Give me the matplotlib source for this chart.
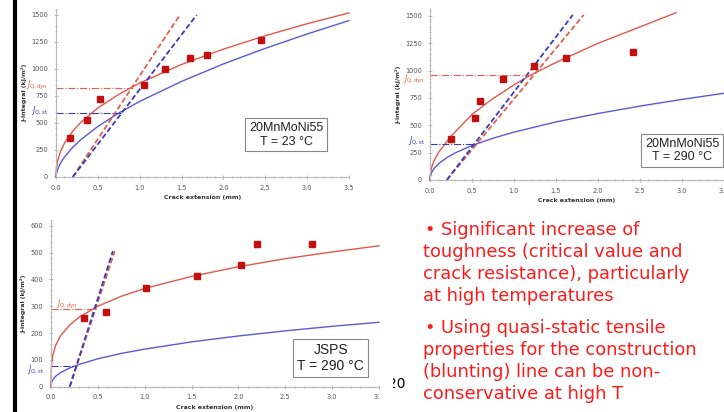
"""
Slide recreation: J-R curves (dynamic vs quasi-static) for 20MnMoNi55 and JSPS.
"""
import matplotlib.pyplot as plt
from matplotlib.patches import Rectangle
from matplotlib.ticker import MultipleLocator

W, H = 724, 412

# ---- data ----
# panel 1: 20MnMoNi55, T = 23 C
p1_pts_x = [0.17, 0.37, 0.53, 1.05, 1.30, 1.60, 1.80, 2.45]
p1_pts_y = [365, 530, 725, 855, 1000, 1100, 1125, 1265]
p1_curve_x = [0, 0.005, 0.02, 0.05, 0.1, 0.2, 0.3, 0.5, 0.75, 1.0, 1.5, 2.0, 2.5, 3.0, 3.5]
p1_dyn_y = [0, 82, 152, 229, 312, 425, 509, 639, 765, 870, 1042, 1184, 1308, 1419, 1519]
p1_st_y = [0, 32, 72, 123, 184, 275, 348, 468, 592, 700, 885, 1047, 1191, 1324, 1448]
p1_blunt_dyn = ([0.2, 1.48], [0, 1500])
p1_blunt_st = ([0.2, 1.68], [0, 1500])
p1_jq_dyn = (0.92, 825)
p1_jq_st = (0.78, 597)

# panel 2: 20MnMoNi55, T = 290 C
p2_pts_x = [0.25, 0.54, 0.60, 0.87, 1.24, 1.62, 2.42]
p2_pts_y = [372, 570, 722, 921, 1043, 1119, 1174]
p2_dyn_x = [0, 0.005, 0.02, 0.05, 0.1, 0.25, 0.5, 0.75, 1.0, 1.2, 1.5, 2.0, 2.5, 2.93]
p2_dyn_y = [0, 60, 115, 180, 250, 400, 600, 745, 870, 960, 1075, 1250, 1400, 1530]
p2_st_x = [0, 0.005, 0.02, 0.05, 0.1, 0.2, 0.3, 0.5, 0.75, 1.0, 1.5, 2.0, 2.5, 3.0, 3.5]
p2_st_y = [0, 36, 69, 106, 147, 204, 248, 315, 382, 438, 531, 608, 676, 737, 793]
p2_blunt_dyn = ([0.2, 1.83], [0, 1510])
p2_blunt_st = ([0.2, 1.70], [0, 1510])
p2_jq_dyn = (1.21, 960)
p2_jq_st = (0.55, 329)

# panel 3: JSPS, T = 290 C
p3_pts_x = [0.35, 0.59, 1.01, 1.56, 2.03, 2.20, 2.78]
p3_pts_y = [255, 279, 369, 414, 452, 530, 530]
p3_curve_x = [0, 0.005, 0.02, 0.05, 0.1, 0.2, 0.3, 0.5, 0.75, 1.0, 1.5, 2.0, 2.5, 3.0, 3.5]
p3_dyn_y = [0, 80, 119, 154, 189, 230, 259, 300, 337, 366, 411, 447, 477, 502, 525]
p3_st_y = [0, 14, 26, 39, 52, 70, 83, 104, 124, 140, 167, 189, 208, 225, 240]
p3_blunt_dyn = ([0.2, 0.68], [0, 505])
p3_blunt_st = ([0.2, 0.66], [0, 505])
p3_jq_dyn = (0.48, 288)
p3_jq_st = (0.28, 76)

bullets = [
    ["\u2022 Significant increase of", "toughness (critical value and",
     "crack resistance), particularly", "at high temperatures"],
    ["\u2022 Using quasi-static tensile", "properties for the construction",
     "(blunting) line can be non-", "conservative at high T"],
]

RED_C = "#e2574c"
BLUE_C = "#5a5ad6"
RED_D = "#e0604f"
BLUE_D = "#3c3cb8"
PT = "#c40f0f"

fig = plt.figure(figsize=(W / 100, H / 100), dpi=100)
fig.patch.set_facecolor("white")


def px_axes(x0, y0, x1, y1):
    return fig.add_axes([x0 / W, 1 - y1 / H, (x1 - x0) / W, (y1 - y0) / H])


def style(ax, ymax, ystep, yminor):
    ax.set_xlim(0, 3.5)
    ax.set_ylim(0, ymax)
    ax.xaxis.set_major_locator(MultipleLocator(0.5))
    ax.xaxis.set_minor_locator(MultipleLocator(0.1))
    ax.yaxis.set_major_locator(MultipleLocator(ystep))
    ax.yaxis.set_minor_locator(MultipleLocator(yminor))
    for s in ["top", "right"]:
        ax.spines[s].set_visible(False)
    for s in ["left", "bottom"]:
        ax.spines[s].set_color("#b8b8b8")
        ax.spines[s].set_linewidth(0.8)
    ax.tick_params(which="both", direction="inout", color="#b8b8b8",
                   labelsize=4.8, labelcolor="#555555", pad=4)
    ax.tick_params(which="major", length=3)
    ax.tick_params(which="minor", length=2)
    ax.set_xlabel("Crack extension (mm)", fontsize=4.5, fontweight="bold",
                  color="#333333", labelpad=3)
    ax.set_ylabel("J-integral (kJ/m\u00b2)", fontsize=4.5, fontweight="bold",
                  color="#333333", labelpad=3)
    ax.set_facecolor("none")


def panel(ax, cx_dyn, cy_dyn, cx_st, cy_st, px, py, bd, bs, jd, js):
    ax.plot(cx_st, cy_st, color=BLUE_C, lw=1.0, clip_on=False)
    ax.plot(cx_dyn, cy_dyn, color=RED_C, lw=1.0, clip_on=False)
    ax.plot(bd[0], bd[1], color=RED_D, lw=1.3, ls=(0, (3, 1.5)), clip_on=False)
    ax.plot(bs[0], bs[1], color=BLUE_D, lw=1.3, ls=(0, (3, 1.5)), clip_on=False)
    ax.plot([0, jd[0]], [jd[1], jd[1]], color=RED_D, lw=0.8, ls="-.")
    ax.plot([0, js[0]], [js[1], js[1]], color=BLUE_D, lw=0.8, ls="-.")
    ax.plot(px, py, ls="none", marker="s", ms=4, color=PT, mec=PT, zorder=5)


def box(ax, x, y, txt, fs):
    ax.text(x, y, txt, ha="center", va="center", fontsize=fs, color="#222222",
            family="Liberation Sans", linespacing=1.15,
            bbox=dict(boxstyle="square,pad=0.3", fc="white", ec="#888888", lw=0.8))


jd_lbl = r"$J_{\mathrm{Q,dyn}}$"
js_lbl = r"$J_{\mathrm{Q,st}}$"

# panel 1
ax1 = px_axes(56, 8.5, 349, 177)
style(ax1, 1560, 250, 50)
ax1.set_yticks([0, 250, 500, 750, 1000, 1250, 1500])
panel(ax1, p1_curve_x, p1_dyn_y, p1_curve_x, p1_st_y, p1_pts_x, p1_pts_y,
      p1_blunt_dyn, p1_blunt_st, p1_jq_dyn, p1_jq_st)
ax1.text(-0.09, p1_jq_dyn[1] + 20, jd_lbl, color=RED_D, fontsize=5.5, ha="right", va="center")
ax1.text(-0.09, p1_jq_st[1] + 20, js_lbl, color=BLUE_D, fontsize=5.5, ha="right", va="center")
box(ax1, 2.75, 390, "20MnMoNi55\nT = 23 \u00b0C", 9)

# panel 2
ax2 = px_axes(430, 9.4, 724, 180)
style(ax2, 1560, 250, 50)
ax2.set_yticks([0, 250, 500, 750, 1000, 1250, 1500])
panel(ax2, p2_dyn_x, p2_dyn_y, p2_st_x, p2_st_y, p2_pts_x, p2_pts_y,
      p2_blunt_dyn, p2_blunt_st, p2_jq_dyn, p2_jq_st)
ax2.text(-0.06, p2_jq_dyn[1] - 45, jd_lbl, color=RED_D, fontsize=5.5, ha="right", va="center")
ax2.text(-0.06, p2_jq_st[1] + 30, js_lbl, color=BLUE_D, fontsize=5.5, ha="right", va="center")
box(ax2, 3.0, 270, "20MnMoNi55\nT = 290 \u00b0C", 9)

# panel 3
ax3 = px_axes(51, 220.3, 379, 386.7)
style(ax3, 620, 100, 20)
ax3.set_yticks([0, 100, 200, 300, 400, 500, 600])
panel(ax3, p3_curve_x, p3_dyn_y, p3_curve_x, p3_st_y, p3_pts_x, p3_pts_y,
      p3_blunt_dyn, p3_blunt_st, p3_jq_dyn, p3_jq_st)
ax3.text(0.05, p3_jq_dyn[1] + 20, jd_lbl, color=RED_D, fontsize=5.5, ha="left", va="center")
ax3.text(-0.07, p3_jq_st[1] - 12, js_lbl, color=BLUE_D, fontsize=5.5, ha="right", va="center")
box(ax3, 2.985, 106, "JSPS\nT = 290 \u00b0C", 10)

# bullet text
line_y = [[230, 252, 274, 296], [328, 350, 372, 394]]
for para, ys in zip(bullets, line_y):
    for k, (line, yy) in enumerate(zip(para, ys)):
        x0 = 425 if k == 0 else 423
        fig.text(x0 / W, 1 - yy / H, line, color="#ff1a1a", fontsize=12.9,
                 family="DejaVu Sans", ha="left", va="center")

# page number partly hidden behind the lower chart
fig.text(388 / W, 1 - 384 / H, "20", fontsize=10, color="black", ha="left", va="center")
fig.add_artist(Rectangle((380 / W, 1 - 400 / H), 13 / W, 30 / H,
                         transform=fig.transFigure, fc="white", ec="none", zorder=10))

# black bar at the left edge
fig.add_artist(plt.Line2D([15 / W, 15 / W], [0, 1], color="black", lw=3))

fig.savefig("out.png", dpi=100)
